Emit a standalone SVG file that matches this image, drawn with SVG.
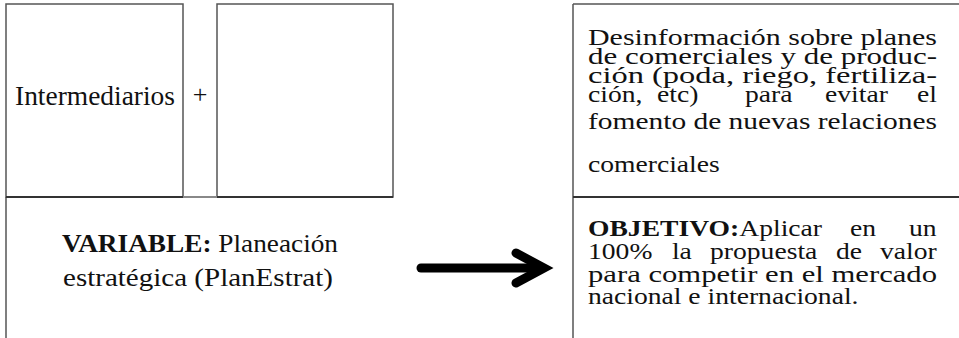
<svg xmlns="http://www.w3.org/2000/svg" width="959" height="338" viewBox="0 0 959 338">
<style>
.b{fill:none;stroke:#555;stroke-width:1.5}
.h{fill:none;stroke:#333;stroke-width:2.2}
.t{font-family:"Liberation Serif",serif;font-size:24px;fill:#111}
.bd{font-weight:bold}
</style>
<rect width="959" height="338" fill="#fff"/>
<g id="intermediarios">
<rect class="b" x="6" y="4" width="177" height="193"/>
<text class="t" x="15" y="105" textLength="160" lengthAdjust="spacingAndGlyphs" style="font-size:27px">Intermediarios</text>
</g>
<g id="plus">
<text class="t" x="200" y="103" text-anchor="middle" style="font-size:26px">+</text>
</g>
<g id="empty">
<rect class="b" x="217" y="4" width="176" height="193"/>
</g>
<g id="variable">
<line class="b" x1="6" y1="197" x2="6" y2="338"/>
<line class="h" x1="6" y1="197" x2="183" y2="197"/>
<line class="h" x1="217" y1="197" x2="393" y2="197"/>
<line x1="183" y1="197" x2="217" y2="197" stroke="#888" stroke-width="2"/>
<text class="t" x="62" y="252" textLength="276" lengthAdjust="spacingAndGlyphs" style="font-size:26px"><tspan class="bd">VARIABLE:</tspan> Planeación</text>
<text class="t" x="63" y="286" textLength="270" lengthAdjust="spacingAndGlyphs" style="font-size:26px">estratégica (PlanEstrat)</text>
</g>
<g id="desinformacion">
<line class="b" x1="573" y1="4" x2="959" y2="4"/>
<line class="b" x1="573" y1="4" x2="573" y2="338"/>
<line class="h" x1="573" y1="197" x2="959" y2="197"/>
<text class="t" transform="translate(588,45) scale(1.15,1)" textLength="303.5" lengthAdjust="spacingAndGlyphs">Desinformación sobre planes</text>
<text class="t" transform="translate(588,64) scale(1.15,1)" textLength="303.5" lengthAdjust="spacingAndGlyphs">de comerciales y de produc-</text>
<text class="t" transform="translate(588,83) scale(1.15,1)" textLength="303.5" lengthAdjust="spacingAndGlyphs">ción (poda, riego, fertiliza-</text>
<text class="t" transform="translate(588,102) scale(1.15,1)"><tspan x="0">ción,</tspan><tspan x="60">etc)</tspan><tspan x="136.5">para</tspan><tspan x="206.1">evitar</tspan><tspan x="286.1">el</tspan></text>
<text class="t" transform="translate(588,129) scale(1.15,1)" textLength="303.5" lengthAdjust="spacingAndGlyphs">fomento de nuevas relaciones</text>
<text class="t" transform="translate(588,172) scale(1.15,1)">comerciales</text>
</g>
<g id="objetivo">
<text class="t" transform="translate(588,236) scale(1.15,1)"><tspan x="0" class="bd">OBJETIVO:</tspan><tspan>Aplicar</tspan><tspan x="227.8">en</tspan><tspan x="279.1">un</tspan></text>
<text class="t" transform="translate(588,259) scale(1.15,1)"><tspan x="0">100%</tspan><tspan x="73">la</tspan><tspan x="106.1">propuesta</tspan><tspan x="215.7">de</tspan><tspan x="253.9">valor</tspan></text>
<text class="t" transform="translate(588,282) scale(1.15,1)" textLength="303.5" lengthAdjust="spacingAndGlyphs">para competir en el mercado</text>
<text class="t" transform="translate(588,304) scale(1.15,1)">nacional e internacional.</text>
</g>
<g id="connectors">
<line x1="421" y1="268" x2="538" y2="268" stroke="#000" stroke-width="9" stroke-linecap="round"/>
<polyline points="516,253 544,268 516,283" fill="none" stroke="#000" stroke-width="9" stroke-linecap="round" stroke-linejoin="miter"/>
</g>
</svg>
